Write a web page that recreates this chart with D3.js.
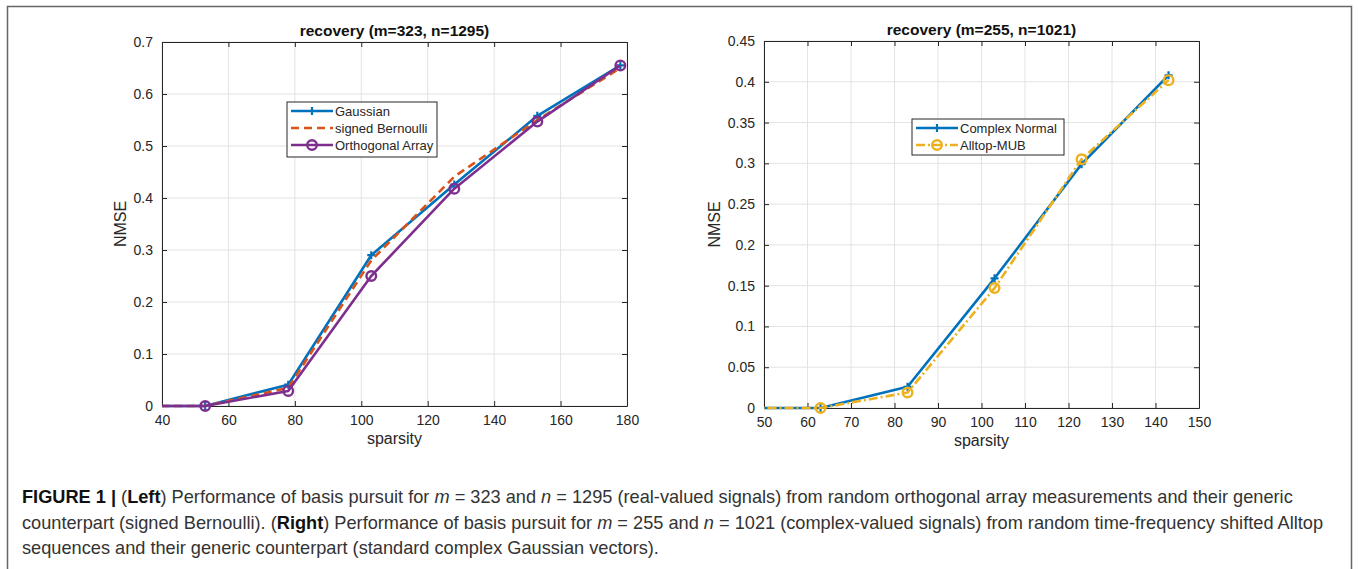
<!DOCTYPE html>
<html>
<head>
<meta charset="utf-8">
<title>recovery NMSE</title>
<script src="https://cdn.jsdelivr.net/npm/d3@7"></script>
<style>
  body { margin: 0; background: #fff; }
  text { font-family: "Liberation Sans", Arial, sans-serif; }
</style>
</head>
<body>
<script>
// left panel data
var leftX = [28, 53, 78, 103, 128, 153, 178];
var gaussian = [0, 0, 0.041, 0.290, 0.426, 0.558, 0.655];
var bernoulli = [0, 0, 0.035, 0.280, 0.441, 0.550, 0.650];
var orthoArray = [0, 0, 0.029, 0.250, 0.418, 0.547, 0.655];
var leftXTicks = [40, 60, 80, 100, 120, 140, 160, 180];
var leftYTicks = [0, 0.1, 0.2, 0.3, 0.4, 0.5, 0.6, 0.7];

// right panel data
var rightX = [43, 63, 83, 103, 123, 143];
var complexNormal = [0, 0, 0.026, 0.159, 0.299, 0.408];
var alltopMUB = [0, 0, 0.019, 0.147, 0.305, 0.402];
var rightXTicks = [50, 60, 70, 80, 90, 100, 110, 120, 130, 140, 150];
var rightYTicks = [0, 0.05, 0.1, 0.15, 0.2, 0.25, 0.3, 0.35, 0.4, 0.45];

var W = 1359, H = 569;
var svg = d3.select("body").append("svg").attr("width", W).attr("height", H);

// outer frame
svg.append("path").attr("d", "M7.5," + H + " V6.5 H1351.5 V" + H)
  .attr("fill", "none").attr("stroke", "#666").attr("stroke-width", 1.5);

function panel(cfg) {
  var x = d3.scaleLinear().domain(cfg.xDomain).range([cfg.left, cfg.right]);
  var y = d3.scaleLinear().domain(cfg.yDomain).range([cfg.bottom, cfg.top]);
  var g = svg.append("g");
  var clipId = "clip" + cfg.id;
  svg.append("clipPath").attr("id", clipId).append("rect")
    .attr("x", cfg.left).attr("y", cfg.top - 10)
    .attr("width", cfg.right - cfg.left).attr("height", cfg.bottom - cfg.top + 20);

  // grid
  g.selectAll(".gx").data(cfg.xTicks).enter().append("line")
    .attr("x1", d => x(d)).attr("x2", d => x(d)).attr("y1", cfg.top).attr("y2", cfg.bottom)
    .attr("stroke", "#e3e3e3").attr("stroke-width", 1);
  g.selectAll(".gy").data(cfg.yTicks).enter().append("line")
    .attr("y1", d => y(d)).attr("y2", d => y(d)).attr("x1", cfg.left).attr("x2", cfg.right)
    .attr("stroke", "#e3e3e3").attr("stroke-width", 1);

  // axes (ticks inward)
  var bottomAxis = d3.axisBottom(x).tickValues(cfg.xTicks).tickSizeInner(-5).tickSizeOuter(0).tickPadding(9);
  var leftAxis = d3.axisLeft(y).tickValues(cfg.yTicks).tickSizeInner(-5).tickSizeOuter(0).tickPadding(9)
    .tickFormat(d => d3.format("~g")(d));
  var topAxis = d3.axisTop(x).tickValues(cfg.xTicks).tickSizeInner(-5).tickSizeOuter(0).tickFormat("");
  var rightAxis = d3.axisRight(y).tickValues(cfg.yTicks).tickSizeInner(-5).tickSizeOuter(0).tickFormat("");

  [[bottomAxis, "translate(0," + cfg.bottom + ")"], [leftAxis, "translate(" + cfg.left + ",0)"],
   [topAxis, "translate(0," + cfg.top + ")"], [rightAxis, "translate(" + cfg.right + ",0)"]]
    .forEach(function (a) {
      var ax = g.append("g").attr("transform", a[1]).call(a[0]);
      ax.selectAll("path,line").attr("stroke", "#262626");
      ax.select(".domain").attr("stroke-width", 1);
      ax.selectAll("text").attr("fill", "#262626").style("font-size", "14px")
        .style("font-family", "Liberation Sans, Arial, sans-serif");
    });

  // labels
  g.append("text").attr("x", (cfg.left + cfg.right) / 2).attr("y", cfg.top - 6)
    .attr("text-anchor", "middle").attr("font-weight", "bold").attr("font-size", 15.5)
    .attr("fill", "#111").text(cfg.title);
  g.append("text").attr("x", (cfg.left + cfg.right) / 2).attr("y", cfg.bottom + 38)
    .attr("text-anchor", "middle").attr("font-size", 16).attr("fill", "#262626").text("sparsity");
  g.append("text").attr("transform", "translate(" + cfg.ylabX + "," + (cfg.top + cfg.bottom) / 2 + ") rotate(-90)")
    .attr("text-anchor", "middle").attr("font-size", 16).attr("fill", "#262626").text("NMSE");

  // series
  var line = d3.line().x(d => x(d[0])).y(d => y(d[1]));
  var plot = g.append("g").attr("clip-path", "url(#" + clipId + ")");
  cfg.series.forEach(function (s) {
    var pts = cfg.xs.map((v, i) => [v, s.values[i]]);
    plot.append("path").datum(pts).attr("d", line).attr("fill", "none")
      .attr("stroke", s.color).attr("stroke-width", 2.6).attr("stroke-dasharray", s.dash || null)
      .attr("stroke-linejoin", "round");
    pts.filter(p => p[0] >= cfg.xDomain[0]).forEach(function (p) {
      drawMarker(plot, s.marker, x(p[0]), y(p[1]), s.color);
    });
  });

  // legend
  var lg = g.append("g");
  lg.append("rect").attr("x", cfg.legend.x).attr("y", cfg.legend.y)
    .attr("width", cfg.legend.w).attr("height", cfg.legend.h)
    .attr("fill", "#fff").attr("stroke", "#262626").attr("stroke-width", 1);
  cfg.series.forEach(function (s, i) {
    var ly = cfg.legend.y + 9 + i * 17;
    var lx = cfg.legend.x + 4;
    lg.append("line").attr("x1", lx).attr("x2", lx + 42).attr("y1", ly).attr("y2", ly)
      .attr("stroke", s.color).attr("stroke-width", 2.6).attr("stroke-dasharray", s.dash || null);
    drawMarker(lg, s.marker, lx + 21, ly, s.color);
    lg.append("text").attr("x", lx + 44).attr("y", ly + 4.5).attr("font-size", 13)
      .attr("fill", "#262626").text(s.name);
  });
}

function drawMarker(sel, type, cx, cy, color) {
  if (type === "plus") {
    sel.append("path").attr("d", "M" + (cx - 4) + "," + cy + "H" + (cx + 4) + "M" + cx + "," + (cy - 4) + "V" + (cy + 4))
      .attr("stroke", color).attr("stroke-width", 2.2).attr("fill", "none");
  } else if (type === "circle") {
    sel.append("circle").attr("cx", cx).attr("cy", cy).attr("r", 4.8)
      .attr("fill", "none").attr("stroke", color).attr("stroke-width", 2.4);
  }
}

panel({
  id: "L", left: 162, right: 627, top: 42, bottom: 406, ylabX: 126,
  xDomain: [40, 180], yDomain: [0, 0.7], xTicks: leftXTicks, yTicks: leftYTicks,
  title: "recovery (m=323, n=1295)", xs: leftX,
  legend: { x: 287, y: 102, w: 150, h: 55 },
  series: [
    { name: "Gaussian", values: gaussian, color: "#0072BD", marker: "plus" },
    { name: "signed Bernoulli", values: bernoulli, color: "#D95319", dash: "8,5" },
    { name: "Orthogonal Array", values: orthoArray, color: "#7E2F8E", marker: "circle" }
  ]
});

panel({
  id: "R", left: 764, right: 1199, top: 41, bottom: 408, ylabX: 720,
  xDomain: [50, 150], yDomain: [0, 0.45], xTicks: rightXTicks, yTicks: rightYTicks,
  title: "recovery (m=255, n=1021)", xs: rightX,
  legend: { x: 912, y: 119, w: 152, h: 36 },
  series: [
    { name: "Complex Normal", values: complexNormal, color: "#0072BD", marker: "plus" },
    { name: "Alltop-MUB", values: alltopMUB, color: "#EDB120", marker: "circle", dash: "9,3,2,3" }
  ]
});

// caption
var captionLines = [
  [["FIGURE 1 | ", "b"], ["(", ""], ["Left", "b"], [") Performance of basis pursuit for ", ""], ["m", "i"], [" = 323 and ", ""], ["n", "i"], [" = 1295 (real-valued signals) from random orthogonal array measurements and their generic", ""]],
  [["counterpart (signed Bernoulli). (", ""], ["Right", "b"], [") Performance of basis pursuit for ", ""], ["m", "i"], [" = 255 and ", ""], ["n", "i"], [" = 1021 (complex-valued signals) from random time-frequency shifted Alltop", ""]],
  [["sequences and their generic counterpart (standard complex Gaussian vectors).", ""]]
];
captionLines.forEach(function (ln, i) {
  var t = svg.append("text").attr("x", 22).attr("y", 503 + i * 25.5)
    .attr("font-size", 18.2).attr("fill", "#333").attr("xml:space", "preserve");
  ln.forEach(function (seg) {
    t.append("tspan").text(seg[0])
      .attr("font-weight", seg[1] === "b" ? "bold" : null)
      .attr("font-style", seg[1] === "i" ? "italic" : null)
      .attr("fill", seg[1] === "b" ? "#111" : null);
  });
});
</script>
</body>
</html>
